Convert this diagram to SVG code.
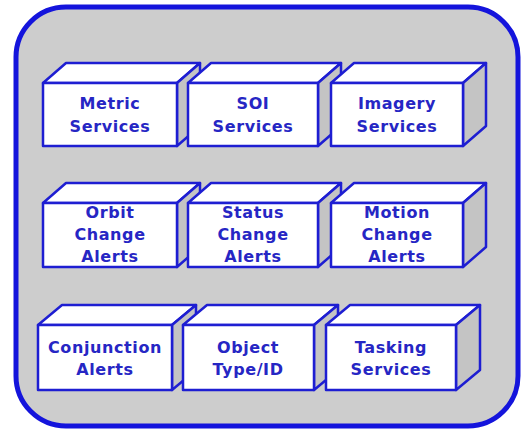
<svg xmlns="http://www.w3.org/2000/svg" width="526" height="435" viewBox="0 0 526 435">
<style>
.f{fill:#ffffff;stroke:#1e1ed2;stroke-width:2.5;stroke-linejoin:round}
.s{fill:#c4c4c4;stroke:#1e1ed2;stroke-width:2.5;stroke-linejoin:round}
.t{font-family:"DejaVu Sans",Verdana,sans-serif;font-weight:bold;font-size:16px;letter-spacing:0.6px;fill:#2626c4;text-anchor:middle}
</style>
<rect width="526" height="435" fill="#ffffff"/>
<rect x="16" y="7" width="502" height="419" rx="50" ry="50" fill="#cdcdcd" stroke="#1414dc" stroke-width="5"/>
<g id="metric">
<polygon class="f" points="43,83 66,63 200,63 177,83"/><polygon class="s" points="177,83 200,63 200,126 177,146"/><rect class="f" x="43" y="83" width="134" height="63"/>
<text class="t" x="110" y="109">Metric</text><text class="t" x="110" y="132">Services</text></g>
<g id="soi">
<polygon class="f" points="188,83 211,63 341,63 318,83"/><polygon class="s" points="318,83 341,63 341,126 318,146"/><rect class="f" x="188" y="83" width="130" height="63"/>
<text class="t" x="253" y="109">SOI</text><text class="t" x="253" y="132">Services</text></g>
<g id="imagery">
<polygon class="f" points="331,83 354,63 486,63 463,83"/><polygon class="s" points="463,83 486,63 486,126 463,146"/><rect class="f" x="331" y="83" width="132" height="63"/>
<text class="t" x="397" y="109">Imagery</text><text class="t" x="397" y="132">Services</text></g>
<g id="orbit">
<polygon class="f" points="43,203 66,183 200,183 177,203"/><polygon class="s" points="177,203 200,183 200,247 177,267"/><rect class="f" x="43" y="203" width="134" height="64"/>
<text class="t" x="110" y="218">Orbit</text><text class="t" x="110" y="240">Change</text><text class="t" x="110" y="262">Alerts</text></g>
<g id="status">
<polygon class="f" points="188,203 211,183 341,183 318,203"/><polygon class="s" points="318,203 341,183 341,247 318,267"/><rect class="f" x="188" y="203" width="130" height="64"/>
<text class="t" x="253" y="218">Status</text><text class="t" x="253" y="240">Change</text><text class="t" x="253" y="262">Alerts</text></g>
<g id="motion">
<polygon class="f" points="331,203 354,183 486,183 463,203"/><polygon class="s" points="463,203 486,183 486,247 463,267"/><rect class="f" x="331" y="203" width="132" height="64"/>
<text class="t" x="397" y="218">Motion</text><text class="t" x="397" y="240">Change</text><text class="t" x="397" y="262">Alerts</text></g>
<g id="conjunction">
<polygon class="f" points="38,325 62,305 196,305 172,325"/><polygon class="s" points="172,325 196,305 196,370 172,390"/><rect class="f" x="38" y="325" width="134" height="65"/>
<text class="t" x="105" y="353">Conjunction</text><text class="t" x="105" y="375">Alerts</text></g>
<g id="object">
<polygon class="f" points="183,325 207,305 338,305 314,325"/><polygon class="s" points="314,325 338,305 338,370 314,390"/><rect class="f" x="183" y="325" width="131" height="65"/>
<text class="t" x="248" y="353">Object</text><text class="t" x="248" y="375">Type/ID</text></g>
<g id="tasking">
<polygon class="f" points="326,325 350,305 480,305 456,325"/><polygon class="s" points="456,325 480,305 480,370 456,390"/><rect class="f" x="326" y="325" width="130" height="65"/>
<text class="t" x="391" y="353">Tasking</text><text class="t" x="391" y="375">Services</text></g>
<g id="connectors"/>
</svg>
